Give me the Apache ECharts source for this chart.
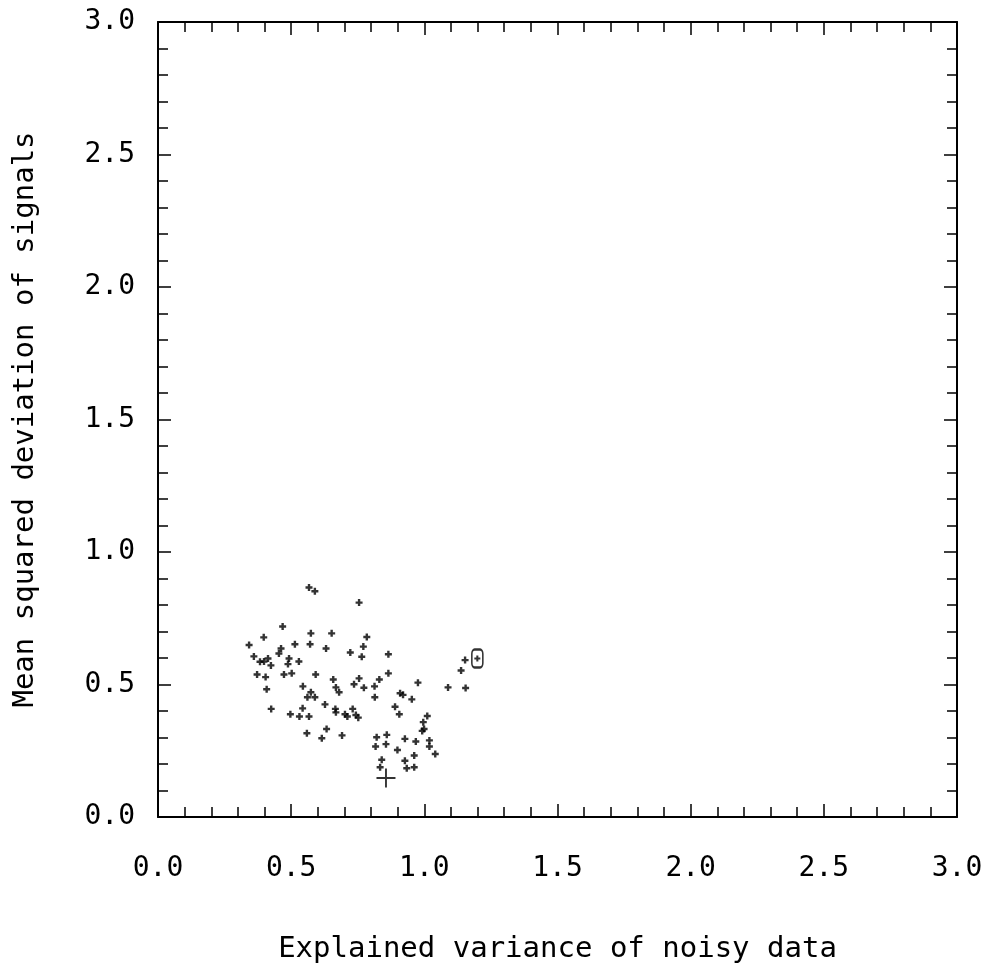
<!DOCTYPE html>
<html>
<head>
<meta charset="utf-8">
<script src="https://cdn.jsdelivr.net/npm/echarts@6/dist/echarts.min.js"></script>
<style>
html,body{margin:0;padding:0;background:#fff;}
#chart{width:986px;height:969px;}
</style>
</head>
<body>
<div id="chart"></div>
<script>
// Explained variance (x) and mean squared deviation (y) for each trial
var xVals = [0.567,0.589,0.755,0.468,0.397,0.574,0.652,0.342,0.514,0.571,
  0.462,0.631,0.454,0.722,0.360,0.492,0.383,0.398,0.413,0.529,
  0.424,0.488,0.372,0.404,0.473,0.502,0.592,0.658,0.755,0.408,
  0.544,0.668,0.680,0.736,0.574,0.561,0.589,0.425,0.543,0.627,
  0.666,0.668,0.497,0.531,0.567,0.702,0.711,0.731,0.743,0.752,
  0.559,0.633,0.615,0.691,0.784,0.771,0.765,0.865,0.865,0.831,
  0.773,0.813,0.909,0.920,0.976,0.814,0.953,0.890,0.906,1.011,
  0.996,0.992,0.999,0.821,0.859,0.856,0.817,0.927,0.968,1.019,
  1.019,0.899,1.041,0.962,0.840,0.927,0.834,0.934,0.962,1.089,
  1.155,1.138,1.153];
var yVals = [0.866,0.852,0.809,0.719,0.678,0.693,0.693,0.649,0.652,0.652,
  0.636,0.636,0.617,0.621,0.606,0.598,0.586,0.587,0.598,0.587,
  0.572,0.577,0.538,0.528,0.538,0.542,0.538,0.519,0.523,0.482,
  0.493,0.489,0.471,0.501,0.471,0.452,0.452,0.408,0.410,0.425,
  0.408,0.395,0.388,0.379,0.379,0.388,0.379,0.408,0.385,0.375,
  0.316,0.332,0.297,0.308,0.679,0.643,0.605,0.614,0.542,0.519,
  0.488,0.493,0.467,0.461,0.507,0.452,0.444,0.416,0.388,0.381,
  0.358,0.325,0.332,0.301,0.310,0.275,0.266,0.295,0.285,0.289,
  0.266,0.253,0.238,0.232,0.216,0.212,0.188,0.184,0.188,0.489,
  0.487,0.553,0.592];
// Special points
var origPoint = [1.199, 0.598];   // oval marker
var truePoint = [0.856, 0.147];   // large cross
var tickValues = [0.0, 0.5, 1.0, 1.5, 2.0, 2.5, 3.0];
var xTitle = 'Explained variance of noisy data';
var yTitle = 'Mean squared deviation of signals';

var pts = xVals.map(function (x, i) { return [x, yVals[i]]; });

var FONT = 'DejaVu Sans Mono';
var smallPlus = 'path://M0,2.3H7V4.7H0Z M2.3,0H4.7V7H2.3Z';
var bigPlus = 'path://M0,9H20V11H0Z M9,0H11V20H9Z';

function axisBase(pos, showLabels, isX) {
  return {
    type: 'value', position: pos, min: 0, max: 3, interval: 0.5,
    axisLine: { show: true, onZero: false, lineStyle: { color: '#000', width: 2 } },
    axisTick: { show: true, inside: true, length: 13, lineStyle: { color: '#000', width: 1.5 } },
    minorTick: { show: true, splitNumber: 5, length: 10, lineStyle: { color: '#000', width: 1.5 } },
    splitLine: { show: false },
    minorSplitLine: { show: false },
    axisLabel: {
      show: showLabels, color: '#000', fontFamily: FONT, fontSize: 28,
      margin: isX ? 38 : 23,
      formatter: function (v) {
        var s = tickValues.filter(function (t) { return Math.abs(t - v) < 1e-9; });
        return s.length ? s[0].toFixed(1) : '';
      }
    }
  };
}

var xBottom = axisBase('bottom', true, true);
xBottom.name = xTitle;
xBottom.nameLocation = 'middle';
xBottom.nameGap = 118;
xBottom.nameTextStyle = { color: '#000', fontFamily: FONT, fontSize: 29 };
var xTop = axisBase('top', false, true);

var yLeft = axisBase('left', true, false);
yLeft.name = yTitle;
yLeft.nameLocation = 'middle';
yLeft.nameGap = 118;
yLeft.nameTextStyle = { color: '#000', fontFamily: FONT, fontSize: 29 };
var yRight = axisBase('right', false, false);

var chart = echarts.init(document.getElementById('chart'), null, { renderer: 'canvas' });
chart.setOption({
  animation: false,
  backgroundColor: '#fff',
  grid: { left: 158, top: 22, width: 799, height: 797, containLabel: false },
  xAxis: [xBottom, xTop],
  yAxis: [yLeft, yRight],
  series: [
    {
      type: 'scatter', xAxisIndex: 0, yAxisIndex: 0,
      symbol: smallPlus, symbolSize: 7,
      itemStyle: { color: '#000' },
      data: pts
    },
    {
      type: 'scatter', xAxisIndex: 0, yAxisIndex: 0,
      symbol: bigPlus, symbolSize: 19,
      itemStyle: { color: '#000' },
      data: [truePoint]
    },
    {
      type: 'scatter', xAxisIndex: 0, yAxisIndex: 0,
      symbol: 'emptyRoundRect', symbolSize: [11, 18],
      itemStyle: { color: '#000', borderColor: '#000', borderWidth: 2.5 },
      data: [origPoint]
    },
    {
      type: 'scatter', xAxisIndex: 0, yAxisIndex: 0, z: 5,
      symbol: smallPlus, symbolSize: 6,
      itemStyle: { color: '#000' },
      data: [origPoint]
    }
  ]
});
</script>
</body>
</html>
